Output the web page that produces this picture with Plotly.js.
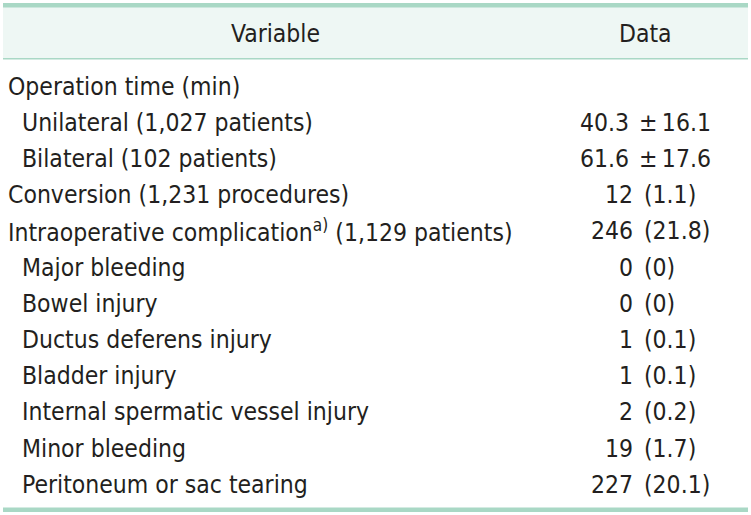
<!DOCTYPE html>
<html>
<head>
<meta charset="utf-8">
<script src="https://cdn.plot.ly/plotly-3.0.1.min.js"></script>
<style>html,body{margin:0;padding:0;background:#fff;}#chart{width:751px;height:515px;}</style>
</head>
<body>
<div id="chart"></div>
<script>
const headers = ["Variable", "Data"];
const variables = [
  "Operation time (min)",
  "Unilateral (1,027 patients)",
  "Bilateral (102 patients)",
  "Conversion (1,231 procedures)",
  "Intraoperative complication<sup>a)</sup> (1,129 patients)",
  "Major bleeding",
  "Bowel injury",
  "Ductus deferens injury",
  "Bladder injury",
  "Internal spermatic vessel injury",
  "Minor bleeding",
  "Peritoneum or sac tearing"
];
const indentLevel = [0, 1, 1, 0, 0, 1, 1, 1, 1, 1, 1, 1];
const dataValues = [
  "",
  "40.3 ± 16.1",
  "61.6 ± 17.6",
  "12 (1.1)",
  "246 (21.8)",
  "0 (0)",
  "0 (0)",
  "1 (0.1)",
  "1 (0.1)",
  "2 (0.2)",
  "19 (1.7)",
  "227 (20.1)"
];

const W = 751, H = 515;
const FONT = "'Liberation Sans Narrow', 'DejaVu Sans Condensed', Arial Narrow, sans-serif";
const textColor = "#231f20";
const lineColor = "#a9d8c5";
const headBg = "#eef7f4";
const fs = 24.5;

const rowY0 = 86, rowStep = 36.2;
const annotations = [];
annotations.push({x: 275, y: 33, text: headers[0], xanchor: "center", yanchor: "middle", showarrow: false, font: {family: FONT, size: fs, color: textColor}});
annotations.push({x: 645, y: 33, text: headers[1], xanchor: "center", yanchor: "middle", showarrow: false, font: {family: FONT, size: fs, color: textColor}});

variables.forEach((v, i) => {
  const y = rowY0 + i * rowStep;
  annotations.push({x: indentLevel[i] ? 20 : 6, y: y, text: v, xanchor: "left", yanchor: "middle", showarrow: false, font: {family: FONT, size: fs, color: textColor}});
  const d = dataValues[i];
  if (d) {
    const k = d.indexOf(" ");
    const left = d.slice(0, k);
    let right = d.slice(k + 1);
    const isPM = right.charAt(0) === "±";
    if (isPM) right = right.replace("± ", "±\u2009");
    annotations.push({x: isPM ? 631 : 635, y: y, text: left, xanchor: "right", yanchor: "middle", showarrow: false, font: {family: FONT, size: fs, color: textColor}});
    annotations.push({x: isPM ? 637 : 642, y: y, text: right, xanchor: "left", yanchor: "middle", showarrow: false, font: {family: FONT, size: fs, color: textColor}});
  }
});

const shapes = [
  {type: "rect", xref: "x", yref: "y", x0: 3, x1: 748, y0: 7, y1: 58, fillcolor: headBg, line: {width: 0}, layer: "below"},
  {type: "rect", xref: "x", yref: "y", x0: 3, x1: 748, y0: 3, y1: 7.5, fillcolor: lineColor, line: {width: 0}},
  {type: "rect", xref: "x", yref: "y", x0: 3, x1: 748, y0: 58, y1: 59.5, fillcolor: lineColor, line: {width: 0}},
  {type: "rect", xref: "x", yref: "y", x0: 3, x1: 748, y0: 507.5, y1: 512, fillcolor: lineColor, line: {width: 0}}
];

Plotly.newPlot("chart", [], {
  width: W, height: H,
  margin: {l: 0, r: 0, t: 0, b: 0},
  paper_bgcolor: "#fff", plot_bgcolor: "#fff",
  xaxis: {range: [0, W], visible: false, fixedrange: true},
  yaxis: {range: [H, 0], visible: false, fixedrange: true},
  showlegend: false,
  annotations: annotations,
  shapes: shapes
}, {staticPlot: true, displayModeBar: false});
</script>
</body>
</html>
